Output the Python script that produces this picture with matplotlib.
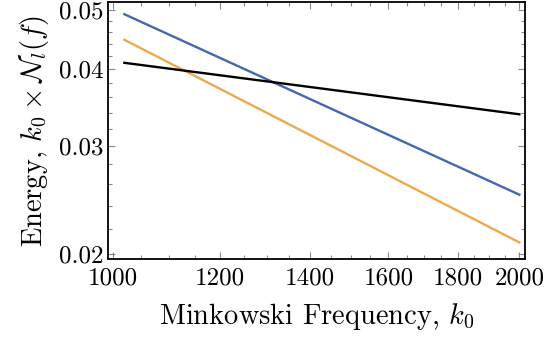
import numpy as np
import matplotlib
matplotlib.use('Agg')
import matplotlib.pyplot as plt
from matplotlib.ticker import FixedLocator, FixedFormatter, NullFormatter

plt.rcParams['font.family'] = 'serif'
plt.rcParams['font.serif'] = ['cmr10']
plt.rcParams['mathtext.fontset'] = 'cm'
plt.rcParams['axes.formatter.use_mathtext'] = True

# endpoints of the three straight (log-log) curves
k0 = [1020, 2000]
blue_vals = [0.0492, 0.0250]
orange_vals = [0.0447, 0.0209]
black_vals = [0.0410, 0.0338]

x_major = [1000, 1200, 1400, 1600, 1800, 2000]
x_labels = ['1000', '1200', '1400', '1600', '1800', '2000']
y_major = [0.02, 0.03, 0.04, 0.05]
y_labels = ['0.02', '0.03', '0.04', '0.05']

fig = plt.figure(figsize=(5.54, 3.37), dpi=100)
ax = fig.add_axes([0.195, 0.231, 0.753, 0.763])

ax.plot(k0, blue_vals, color='#4467ae', lw=1.7)
ax.plot(k0, orange_vals, color='#eda94f', lw=1.7)
ax.plot(k0, black_vals, color='black', lw=1.7)

ax.set_xscale('log')
ax.set_yscale('log')
ax.set_xlim(992, 2020)
ax.set_ylim(0.01963, 0.0515)

ax.xaxis.set_major_locator(FixedLocator(x_major))
ax.xaxis.set_major_formatter(FixedFormatter(x_labels))
x_minor = [v for v in range(1000, 2001, 50) if v not in x_major]
ax.xaxis.set_minor_locator(FixedLocator(x_minor))
ax.xaxis.set_minor_formatter(NullFormatter())

ax.yaxis.set_major_locator(FixedLocator(y_major))
ax.yaxis.set_major_formatter(FixedFormatter(y_labels))
y_minor = [round(0.02 + 0.002 * i, 3) for i in range(16)]
y_minor = [v for v in y_minor if v not in y_major]
ax.yaxis.set_minor_locator(FixedLocator(y_minor))
ax.yaxis.set_minor_formatter(NullFormatter())

ax.tick_params(which='both', direction='in', top=True, right=True,
               color='#888888', width=0.8, labelsize=18, pad=3)
ax.tick_params(axis='x', which='major', pad=6)
ax.tick_params(which='major', length=5)
ax.tick_params(which='minor', length=3)
for s in ax.spines.values():
    s.set_linewidth(1.3)

ax.set_xlabel(r'Minkowski Frequency, $k_0$', fontsize=20.5, labelpad=8)
ax.set_ylabel(r'Energy, $k_0\times\mathcal{N}_l(f)$', fontsize=20.5, labelpad=6)

fig.savefig('out.png', dpi=100)
